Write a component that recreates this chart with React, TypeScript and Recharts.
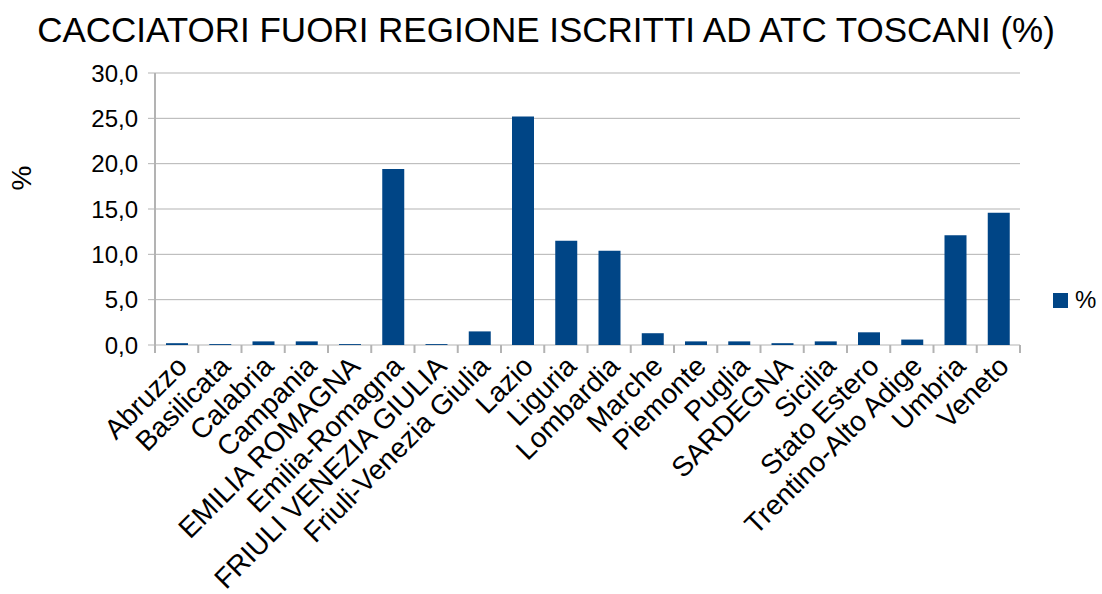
import React from 'react';
import { BarChart, Bar, XAxis, YAxis, CartesianGrid } from 'recharts';

const categories = [
  'Abruzzo', 'Basilicata', 'Calabria', 'Campania', 'EMILIA ROMAGNA', 'Emilia-Romagna',
  'FRIULI VENEZIA GIULIA', 'Friuli-Venezia Giulia', 'Lazio', 'Liguria', 'Lombardia',
  'Marche', 'Piemonte', 'Puglia', 'SARDEGNA', 'Sicilia', 'Stato Estero',
  'Trentino-Alto Adige', 'Umbria', 'Veneto',
];
const values = [
  0.2, 0.1, 0.4, 0.4, 0.1, 19.4, 0.1, 1.5, 25.2, 11.5, 10.4,
  1.3, 0.4, 0.4, 0.2, 0.4, 1.4, 0.6, 12.1, 14.6,
];
const yTicks = [0, 5, 10, 15, 20, 25, 30];

const data = categories.map((name, i) => ({ name, pct: values[i] }));

const FONT = '"Liberation Sans", Arial, sans-serif';
const BLUE = '#004586';
const GRID = '#b3b3b3';

const PLOT_LEFT = 155;
const PLOT_RIGHT = 1020;
const BAND = (PLOT_RIGHT - PLOT_LEFT) / categories.length;

const XTick = (props: any) => {
  const { x, y, payload, index } = props;
  const isLast = index === categories.length - 1;
  return (
    <g>
      <line x1={x - BAND / 2} x2={x - BAND / 2} y1={y - 8} y2={y} stroke={GRID} strokeWidth={2} />
      {isLast && (
        <line x1={x + BAND / 2} x2={x + BAND / 2} y1={y - 8} y2={y} stroke={GRID} strokeWidth={2} />
      )}
      <g transform={`translate(${x},${y + 3})`}>
        <text transform="rotate(-45)" textAnchor="end" x={0} y={0} dy={17} fontSize={28} fill="#000" fontFamily={FONT}>
          {payload.value}
        </text>
      </g>
    </g>
  );
};

const baseLine = (props: any) => {
  const yAxis = props?.yAxis;
  if (yAxis && typeof yAxis.scale === 'function') return [yAxis.scale(0)];
  return [];
};

export default function App() {
  return (
    <div style={{ position: 'absolute', left: 0, top: 0, width: 1102, height: 594, background: '#fff' }}>
      <div
        style={{
          position: 'absolute', left: -5, top: 10, width: 1102, textAlign: 'center',
          fontFamily: FONT, fontSize: 35, color: '#000', whiteSpace: 'nowrap', lineHeight: '40px',
        }}
      >
        CACCIATORI FUORI REGIONE ISCRITTI AD ATC TOSCANI (%)
      </div>
      <div
        style={{
          position: 'absolute', left: 10, top: 178, transform: 'translate(0,-50%) rotate(-90deg)',
          fontFamily: FONT, fontSize: 28, color: '#000', lineHeight: '30px',
        }}
      >
        %
      </div>
      <div
        style={{
          position: 'absolute', left: 1053, top: 286, display: 'flex', alignItems: 'center',
          fontFamily: FONT, fontSize: 24, color: '#000', lineHeight: '28px',
        }}
      >
        <span style={{ display: 'inline-block', width: 15, height: 15, background: BLUE, marginRight: 7 }} />
        <span>%</span>
      </div>
      <BarChart
        width={1102}
        height={594}
        data={data}
        margin={{ top: 73, right: 1102 - PLOT_RIGHT, bottom: 9, left: 0 }}
        barSize={22}
        style={{ position: 'absolute', left: 0, top: 0 }}
      >
        <CartesianGrid vertical={false} stroke={GRID} strokeWidth={1} />
        <CartesianGrid vertical={false} stroke={GRID} strokeWidth={2} horizontalCoordinatesGenerator={baseLine} />
        <XAxis
          dataKey="name"
          interval={0}
          height={240}
          tickLine={false}
          axisLine={false}
          tick={<XTick />}
        />
        <YAxis
          width={PLOT_LEFT}
          domain={[0, 30]}
          ticks={yTicks}
          interval={0}
          tickFormatter={(v: number) => v.toFixed(1).replace('.', ',')}
          tick={{ fontSize: 24, fill: '#000', fontFamily: FONT }}
          tickSize={7}
          tickMargin={10}
          tickLine={{ stroke: GRID, strokeWidth: 1 }}
          axisLine={{ stroke: GRID, strokeWidth: 2 }}
        />
        <Bar dataKey="pct" fill={BLUE} isAnimationActive={false} />
      </BarChart>
    </div>
  );
}
